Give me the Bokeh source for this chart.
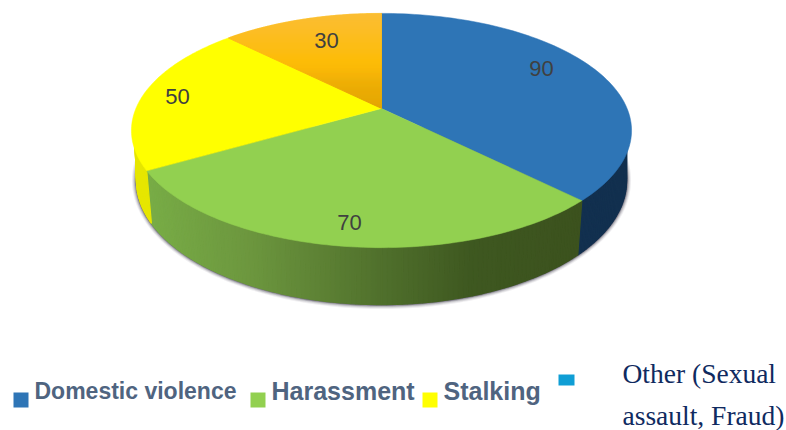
import numpy as np
from bokeh.plotting import figure
from bokeh.models import Range1d
from bokeh.core.properties import value
from bokeh.embed import file_html
from bokeh.resources import INLINE

categories = ["Domestic violence", "Harassment", "Stalking", "Other (Sexual assault, Fraud)"]
values = [90, 70, 50, 30]
top_colors = ["#2e75b6", "#92d050", "#ffff00", "#ffc000"]
value_labels = ["90", "70", "50", "30"]

# layout (pixel space of the 786x430 page)
CX, CY, A, B, K = 381.0, 108.0, 245.6, 113.0, 0.188
Y_BOTTOM, SX, SY = 157.0, 0.98, 1.057
label_x = [541, 349, 177, 326]
label_y = [68, 222, 96, 40]


def rim(theta_deg, bottom=False):
    t = np.radians(theta_deg)
    u, v = np.sin(t), -np.cos(t)
    d = 1 - K * v
    if bottom:
        return CX + SX * A * u / d, Y_BOTTOM + SY * B * v / d
    return CX + A * u / d, CY + B * v / d


def mix(stops, x):
    xs = [s[0] for s in stops]
    rgb = [np.interp(x, xs, [s[1][i] for s in stops]) for i in range(3)]
    return "#%02x%02x%02x" % tuple(int(round(c)) for c in rgb)


def wall_inset(t):
    # keeps the wall's outer edge vertical so the shadow shows beside it
    return 5 * np.clip((125 - t) / 20, 0, 1) - 5 * np.clip((t - 245) / 20, 0, 1)


p = figure(width=786, height=430, x_range=Range1d(0, 786), y_range=Range1d(430, 0),
           output_backend="svg", toolbar_location=None, min_border=0,
           outline_line_color=None, background_fill_color="white")
p.axis.visible = False
p.grid.visible = False

edges = np.cumsum([0] + values) / sum(values) * 360

# soft drop shadow, front of the disc only
sx, sy = rim(np.arange(75, 286, 1.0), bottom=True)
for grow, alpha in [(4.5, .08), (3.5, .12), (2.5, .20), (1.5, .34), (0.7, .45)]:
    fx = (sx - CX) * (1 + grow / 245) + CX
    fy = (sy - 190) * (1 + grow / 115) + 190
    p.patch(fx, fy, fill_color="#3a3648", fill_alpha=alpha, line_color=None)

# side wall, shaded along x
green_stops = [(148, (120, 172, 70)), (250, (108, 150, 62)), (380, (80, 112, 44)),
               (470, (62, 88, 32)), (580, (60, 82, 30))]
qx, qy, qc = [], [], []
for i in range(len(values)):
    a0, a1 = max(edges[i], 75), min(edges[i + 1], 285)
    if a1 <= a0:
        continue
    for t in np.arange(a0, a1, 1.0):
        t1 = min(t + 1.0, a1)
        xt0, yt0 = rim(t)
        xt1, yt1 = rim(t1)
        xb1, yb1 = rim(t1, True)
        xb0, yb0 = rim(t, True)
        if i != 1:
            xt0 -= wall_inset(t)
            xt1 -= wall_inset(t1)
        qx.append([xt0, xt1, xb1, xb0])
        qy.append([yt0, yt1, yb1, yb0])
        if i == 0:
            qc.append("#12304f")
        elif i == 1:
            qc.append(mix(green_stops, (xt0 + xt1) / 2))
        else:
            qc.append("#e6e600")
p.patches(qx, qy, fill_color=qc, line_color=qc, line_width=1.2)

# top faces
for i in range(len(values)):
    th = np.linspace(edges[i], edges[i + 1], 90)
    x, y = rim(th)
    p.patch(np.r_[CX, x], np.r_[CY, y], fill_color=top_colors[i], line_color=top_colors[i], line_width=0.5)

# vertical gradient over the last slice
th = np.linspace(edges[4], edges[3], 60)
ex, ey = rim(th)
ex = np.r_[ex, CX]
ey = np.r_[ey, CY]
orange_stops = [(13, (250, 190, 60)), (60, (253, 188, 12)), (108, (222, 160, 6))]
ys = np.arange(ey.min(), CY, 1.0)
bx, by, bc = [], [], []
for y0 in ys:
    y1 = min(y0 + 1.0, CY)
    l0, l1 = np.interp([y0, y1], ey, ex)
    bx.append([l0, CX, CX, l1])
    by.append([y0, y0, y1, y1])
    bc.append(mix(orange_stops, y0))
p.patches(bx, by, fill_color=bc, line_color=bc, line_width=0.4)

p.text(label_x, label_y, text=value_labels, text_font=value("Liberation Sans"), text_font_size="22px",
       text_color="#404040", text_align="center", text_baseline="middle")

# legend
p.rect(x=[20.5, 257.5, 429.5], y=[399.5, 399.5, 399.5], width=15, height=15,
       fill_color=top_colors[:3], line_color=None)
p.rect(x=[566], y=[379.5], width=16, height=11, fill_color=["#0f9ed5"], line_color=None)
for tx, label, size in zip([34, 271, 443], categories[:3], ["23px", "25px", "25px"]):
    p.text([tx], [390], text=[label], text_font=value("Liberation Sans"),
           text_font_size=size, text_font_style="bold", text_color="#4f6480",
           text_align="left", text_baseline="middle")
other_lines = ["Other (Sexual", "assault, Fraud)"]
p.text([622, 622], [373, 415], text=other_lines, text_font=value("Liberation Serif"),
       text_font_size="27.5px", text_color="#0f2a60", text_align="left", text_baseline="middle")

open("out.html", "w").write(file_html(p, INLINE))
